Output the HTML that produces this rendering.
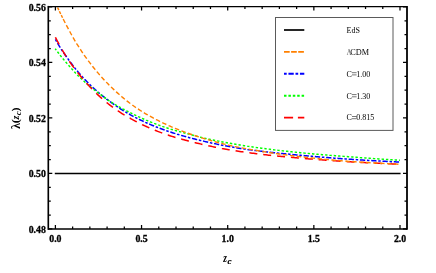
<!DOCTYPE html>
<html><head><meta charset="utf-8"><title>plot</title>
<style>html,body{margin:0;padding:0;background:#fff;}body{width:436px;height:273px;overflow:hidden;font-family:"Liberation Serif",serif;}svg{display:block;position:absolute;left:0;top:0;will-change:transform;}</style>
</head><body>
<svg width="436" height="273" viewBox="0 0 436 273">
<rect x="0" y="0" width="436" height="273" fill="#fff"/>
<g fill="none" stroke-linecap="butt" stroke-linejoin="round">
<path d="M54.8,173.45 L400.6,173.45" stroke="#000" stroke-width="1.4"/>
<path d="M55.42,39.47 L55.57,39.74 L56.64,41.65 M57.51,43.17 L57.64,43.39 L59.02,45.72 L60.26,47.70 M61.23,49.16 L61.26,49.21 L62.64,51.23 M63.62,52.67 L63.68,52.76 L65.06,54.74 L66.44,56.70 L66.66,57.01 M67.68,58.44 L67.82,58.63 L69.14,60.47 M70.17,61.88 L70.23,61.96 L71.61,63.82 L72.99,65.63 L73.37,66.11 M74.44,67.50 L74.54,67.62 L75.92,69.35 L76.00,69.45 M77.11,70.81 L77.13,70.83 L78.51,72.48 L79.89,74.08 L80.55,74.84 M81.72,76.14 L81.79,76.21 L83.17,77.71 L83.42,77.98 M84.62,79.25 L84.72,79.36 L86.10,80.79 L87.48,82.20 L88.32,83.04 M89.56,84.28 L89.72,84.44 L91.10,85.78 L91.36,86.02 M92.63,87.23 L92.65,87.25 L94.03,88.53 L95.41,89.79 L96.55,90.80 M97.86,91.95 L98.00,92.07 L99.38,93.25 L99.76,93.58 M101.11,94.70 L101.11,94.70 L102.49,95.83 L103.86,96.94 L105.23,98.02 M106.62,99.10 L106.62,99.11 L108.00,100.16 L108.60,100.61 M110.01,101.66 L110.07,101.71 L111.45,102.72 L112.83,103.70 L114.21,104.67 L114.32,104.75 M115.76,105.74 L115.77,105.75 L117.15,106.68 L117.83,107.14 M119.30,108.10 L119.39,108.16 L120.77,109.04 L122.15,109.92 L123.53,110.77 L123.78,110.92 M125.28,111.83 L125.42,111.92 L126.80,112.73 L127.43,113.10 M128.95,113.97 L129.05,114.02 L130.43,114.79 L131.81,115.55 L133.19,116.29 L133.60,116.52 M135.15,117.33 L135.25,117.39 L136.63,118.10 L137.38,118.47 M138.94,119.26 L139.05,119.31 L140.43,119.98 L141.81,120.65 L143.19,121.30 L143.72,121.55 M145.31,122.28 L145.43,122.34 L146.81,122.96 L147.59,123.30 M149.20,124.01 L149.23,124.02 L150.60,124.61 L151.98,125.19 L153.36,125.76 L154.08,126.06 M155.71,126.71 L155.78,126.74 L157.16,127.28 L158.04,127.62 M159.67,128.24 L159.75,128.27 L161.13,128.79 L162.51,129.29 L163.89,129.79 L164.65,130.06 M166.31,130.65 L166.47,130.70 L167.85,131.18 L168.67,131.45 M170.33,132.01 L170.44,132.04 L171.82,132.50 L173.20,132.94 L174.58,133.38 L175.38,133.63 M177.05,134.14 L177.17,134.18 L178.55,134.59 L179.45,134.86 M181.13,135.36 L181.13,135.36 L182.51,135.76 L183.89,136.15 L185.27,136.54 L186.23,136.80 M187.92,137.26 L188.03,137.29 L189.41,137.66 L190.33,137.90 M192.03,138.35 L192.17,138.38 L193.55,138.74 L194.93,139.09 L196.31,139.43 L197.17,139.64 M198.87,140.06 L198.90,140.06 L200.28,140.40 L201.30,140.64 M203.00,141.04 L203.04,141.05 L204.42,141.37 L205.80,141.69 L207.18,142.01 L208.17,142.23 M209.88,142.61 L209.94,142.63 L211.32,142.93 L212.32,143.15 M214.03,143.52 L214.07,143.53 L215.45,143.82 L216.83,144.11 L218.21,144.40 L219.22,144.60 M220.94,144.95 L220.97,144.96 L222.35,145.23 L223.39,145.43 M225.11,145.77 L225.11,145.77 L226.49,146.03 L227.87,146.29 L229.25,146.54 L230.32,146.73 M232.05,147.04 L232.18,147.06 L233.56,147.30 L234.51,147.46 M236.23,147.75 L236.32,147.77 L237.70,147.99 L239.08,148.21 L240.46,148.43 L241.47,148.59 M243.20,148.85 L243.22,148.85 L244.60,149.06 L245.68,149.21 M247.41,149.46 L247.53,149.48 L248.91,149.67 L250.29,149.86 L251.67,150.05 L252.66,150.18 M254.40,150.41 L254.43,150.41 L255.81,150.59 L256.88,150.73 M258.61,150.94 L258.75,150.96 L260.12,151.13 L261.50,151.29 L262.88,151.45 L263.88,151.57 M265.62,151.77 L265.64,151.77 L267.02,151.93 L268.10,152.05 M269.84,152.24 L269.96,152.25 L271.34,152.40 L272.72,152.55 L274.10,152.70 L275.11,152.80 M276.85,152.98 L277.03,153.00 L278.41,153.14 L279.34,153.24 M281.08,153.41 L281.17,153.42 L282.55,153.56 L283.93,153.69 L285.31,153.83 L286.36,153.93 M288.10,154.10 L288.24,154.11 L289.62,154.24 L290.59,154.34 M292.33,154.50 L292.38,154.50 L293.76,154.64 L295.14,154.77 L296.52,154.89 L297.61,155.00 M299.36,155.16 L299.45,155.17 L300.83,155.30 L301.84,155.39 M303.59,155.55 L303.59,155.55 L304.97,155.68 L306.35,155.81 L307.73,155.93 L308.87,156.03 M310.61,156.19 L310.66,156.19 L312.04,156.31 L313.10,156.40 M314.85,156.55 L314.97,156.56 L316.35,156.68 L317.73,156.80 L319.11,156.91 L320.13,157.00 M321.87,157.14 L322.04,157.16 L323.42,157.27 L324.37,157.34 M326.11,157.48 L326.18,157.49 L327.56,157.60 L328.94,157.71 L330.32,157.82 L331.39,157.90 M333.14,158.03 L333.25,158.04 L334.63,158.14 L335.64,158.22 M337.38,158.35 L337.39,158.35 L338.77,158.45 L340.15,158.55 L341.53,158.65 L342.67,158.73 M344.42,158.85 L344.46,158.86 L345.84,158.95 L346.91,159.03 M348.66,159.14 L348.78,159.15 L350.16,159.24 L351.54,159.34 L352.92,159.43 L353.94,159.49 M355.69,159.61 L355.85,159.62 L357.23,159.71 L358.19,159.77 M359.93,159.88 L359.99,159.88 L361.37,159.97 L362.75,160.06 L364.13,160.14 L365.22,160.21 M366.97,160.32 L367.06,160.32 L368.44,160.41 L369.47,160.47 M371.22,160.57 L371.37,160.58 L372.75,160.66 L374.13,160.74 L375.51,160.82 L376.51,160.88 M378.26,160.97 L378.27,160.97 L379.65,161.05 L380.75,161.11 M382.50,161.20 L382.58,161.21 L383.96,161.28 L385.34,161.35 L386.72,161.42 L387.79,161.47 M389.55,161.56 L389.65,161.56 L391.03,161.63 L392.04,161.68 M393.79,161.76 L393.79,161.76 L395.17,161.83 L396.55,161.89 L397.93,161.95 L399.09,162.00" stroke="#0000ff" stroke-width="1.5"/>
<path d="M55.23,48.75 L55.40,48.98 L56.25,50.13 M57.43,51.70 L57.47,51.75 L58.85,53.55 L58.89,53.61 M60.10,55.15 L60.23,55.32 L61.59,57.03 M62.83,58.54 L62.99,58.74 L64.36,60.39 M65.63,61.89 L65.75,62.03 L67.13,63.62 L67.20,63.70 M68.49,65.17 L68.51,65.19 L69.89,66.73 L70.09,66.96 M71.38,68.43 L71.44,68.50 L72.82,70.07 L72.97,70.24 M74.27,71.70 L74.37,71.82 L75.75,73.33 L75.89,73.47 M77.24,74.89 L77.30,74.95 L78.68,76.32 L78.95,76.57 M80.37,77.93 L80.41,77.97 L81.79,79.26 L82.12,79.57 M83.57,80.89 L83.69,81.00 L85.07,82.23 L85.36,82.48 M86.83,83.77 L86.96,83.88 L88.34,85.06 L88.66,85.33 M90.17,86.58 L90.24,86.64 L91.62,87.77 L92.03,88.10 M93.56,89.32 L93.69,89.42 L95.07,90.50 L95.45,90.79 M97.01,91.98 L97.14,92.08 L98.52,93.11 L98.93,93.42 M100.51,94.58 L100.59,94.64 L101.97,95.65 L102.44,96.01 M104.02,97.17 L104.04,97.19 L105.42,98.20 L105.95,98.58 M107.55,99.72 L107.66,99.79 L109.04,100.73 L109.54,101.06 M111.19,102.12 L111.28,102.18 L112.66,103.04 L113.23,103.38 M114.91,104.40 L115.08,104.50 L116.46,105.31 L116.98,105.61 M118.68,106.58 L118.70,106.59 L120.08,107.36 L120.78,107.74 M122.50,108.68 L122.66,108.77 L124.04,109.50 L124.62,109.81 M126.35,110.71 L126.46,110.77 L127.84,111.48 L128.49,111.81 M130.24,112.70 L130.25,112.71 L131.63,113.40 L132.38,113.77 M134.14,114.63 L134.22,114.67 L135.60,115.33 L136.31,115.67 M138.08,116.50 L138.19,116.55 L139.57,117.19 L140.26,117.51 M142.04,118.31 L142.15,118.36 L143.53,118.97 L144.24,119.28 M146.04,120.06 L146.12,120.10 L147.50,120.68 L148.25,121.00 M150.06,121.74 L150.09,121.76 L151.47,122.32 L152.28,122.64 M154.11,123.36 L154.23,123.41 L155.61,123.94 L156.35,124.22 M158.18,124.91 L158.19,124.92 L159.57,125.42 L160.43,125.73 M162.28,126.38 L162.33,126.40 L163.71,126.87 L164.55,127.16 M166.42,127.77 L166.47,127.78 L167.85,128.22 L168.70,128.49 M170.58,129.07 L170.61,129.08 L171.99,129.49 L172.88,129.75 M174.76,130.30 L174.92,130.35 L176.30,130.74 L177.07,130.96 M178.95,131.48 L179.06,131.51 L180.44,131.89 L181.27,132.11 M183.16,132.63 L183.20,132.64 L184.58,133.01 L185.48,133.25 M187.37,133.75 L187.51,133.79 L188.89,134.16 L189.69,134.37 M191.58,134.87 L191.65,134.89 L193.03,135.26 L193.90,135.49 M195.80,135.99 L195.97,136.04 L197.34,136.40 L198.12,136.60 M200.02,137.08 L200.10,137.10 L201.48,137.44 L202.35,137.65 M204.26,138.10 L204.42,138.13 L205.80,138.45 L206.60,138.63 M208.51,139.06 L208.56,139.07 L209.94,139.37 L210.85,139.57 M212.77,139.98 L212.87,140.00 L214.25,140.28 L215.12,140.46 M217.04,140.85 L217.18,140.88 L218.56,141.16 L219.39,141.32 M221.32,141.70 L221.32,141.70 L222.70,141.96 L223.67,142.15 M225.60,142.50 L225.63,142.51 L227.01,142.76 L227.96,142.94 M229.89,143.28 L229.94,143.29 L231.32,143.54 L232.25,143.70 M234.18,144.03 L234.25,144.05 L235.63,144.28 L236.55,144.44 M238.48,144.76 L238.57,144.77 L239.95,145.00 L240.85,145.15 M242.78,145.46 L242.88,145.47 L244.26,145.69 L245.15,145.83 M247.09,146.13 L247.19,146.15 L248.57,146.36 L249.46,146.49 M251.40,146.78 L251.50,146.79 L252.88,146.99 L253.77,147.12 M255.71,147.40 L255.81,147.41 L257.19,147.61 L258.09,147.73 M260.03,148.00 L260.12,148.01 L261.50,148.20 L262.41,148.32 M264.35,148.58 L264.44,148.59 L265.82,148.77 L266.73,148.89 M268.67,149.14 L268.75,149.15 L270.13,149.32 L271.06,149.44 M273.00,149.68 L273.06,149.68 L274.44,149.85 L275.38,149.96 M277.33,150.20 L277.37,150.20 L278.75,150.36 L279.71,150.47 M281.66,150.70 L281.68,150.70 L283.06,150.86 L284.04,150.97 M285.99,151.18 L286.00,151.18 L287.38,151.34 L288.38,151.44 M290.32,151.65 L290.48,151.67 L291.86,151.82 L292.71,151.91 M294.66,152.11 L294.79,152.12 L296.17,152.26 L297.05,152.35 M299.00,152.55 L299.10,152.56 L300.48,152.70 L301.38,152.79 M303.33,152.98 L303.42,152.98 L304.80,153.12 L305.72,153.20 M307.67,153.39 L307.73,153.39 L309.11,153.52 L310.06,153.60 M312.01,153.78 L312.04,153.78 L313.42,153.91 L314.41,153.99 M316.36,154.16 L316.52,154.18 L317.90,154.30 L318.75,154.37 M320.70,154.53 L320.84,154.54 L322.21,154.66 L323.09,154.73 M325.04,154.89 L325.15,154.90 L326.53,155.01 L327.44,155.08 M329.39,155.24 L329.46,155.25 L330.84,155.35 L331.78,155.43 M333.73,155.58 L333.77,155.58 L335.15,155.69 L336.13,155.77 M338.08,155.92 L338.08,155.92 L339.46,156.02 L340.47,156.10 M342.43,156.24 L342.57,156.25 L343.95,156.36 L344.82,156.42 M346.77,156.57 L346.88,156.58 L348.26,156.68 L349.17,156.75 M351.12,156.89 L351.19,156.90 L352.57,157.00 L353.51,157.07 M355.47,157.22 L355.50,157.22 L356.88,157.32 L357.86,157.40 M359.82,157.54 L359.99,157.56 L361.37,157.66 L362.21,157.72 M364.16,157.87 L364.30,157.88 L365.68,157.99 L366.56,158.05 M368.51,158.20 L368.61,158.20 L369.99,158.31 L370.90,158.37 M372.86,158.51 L372.92,158.52 L374.30,158.62 L375.25,158.69 M377.20,158.82 L377.23,158.82 L378.61,158.92 L379.60,158.99 M381.55,159.12 L381.72,159.13 L383.10,159.22 L383.95,159.27 M385.90,159.40 L386.03,159.40 L387.41,159.49 L388.30,159.54 M390.25,159.65 L390.34,159.66 L391.72,159.74 L392.65,159.79 M394.61,159.90 L394.65,159.90 L396.03,159.98 L397.00,160.03 M398.96,160.14 L398.97,160.14 L400.00,160.19" stroke="#00ff00" stroke-width="1.45"/>
<path d="M55.41,37.24 L55.57,37.56 L56.95,40.25 L58.33,42.94 L59.07,44.36 M61.93,49.55 L61.95,49.59 L63.33,51.91 L64.71,54.17 L66.09,56.36 L66.10,56.38 M69.36,61.33 L69.37,61.34 L70.75,63.33 L72.13,65.27 L73.51,67.15 L74.02,67.83 M77.62,72.54 L77.65,72.58 L79.03,74.31 L80.41,76.01 L81.79,77.66 L82.69,78.73 M86.61,83.18 L86.62,83.20 L88.00,84.71 L89.38,86.20 L90.76,87.67 L92.06,89.03 M96.24,93.25 L96.28,93.28 L97.66,94.62 L99.04,95.92 L100.42,97.19 L101.80,98.43 L102.10,98.69 M106.64,102.50 L106.80,102.63 L108.18,103.73 L109.56,104.80 L110.94,105.85 L112.32,106.88 L112.98,107.37 M117.83,110.79 L117.84,110.79 L119.21,111.72 L120.59,112.63 L121.97,113.52 L123.35,114.39 L124.56,115.12 M129.73,118.02 L129.74,118.02 L131.12,118.79 L132.50,119.56 L133.88,120.31 L135.25,121.05 L136.63,121.77 L136.76,121.84 M142.06,124.50 L142.15,124.55 L143.53,125.22 L144.91,125.87 L146.29,126.51 L147.67,127.14 L149.05,127.75 L149.31,127.87 M154.77,130.19 L154.92,130.25 L156.30,130.81 L157.68,131.35 L159.06,131.89 L160.44,132.41 L161.82,132.92 L162.23,133.08 M167.83,135.03 L167.85,135.03 L169.23,135.48 L170.61,135.93 L171.99,136.36 L173.37,136.78 L174.75,137.20 L175.47,137.41 M181.17,139.03 L181.31,139.06 L182.68,139.44 L184.06,139.81 L185.44,140.18 L186.82,140.54 L188.20,140.90 L188.90,141.08 M194.65,142.53 L194.76,142.56 L196.14,142.90 L197.52,143.23 L198.90,143.56 L200.28,143.89 L201.66,144.22 L202.43,144.40 M208.22,145.70 L208.38,145.74 L209.76,146.04 L211.14,146.33 L212.52,146.63 L213.90,146.91 L215.28,147.20 L216.05,147.35 M221.87,148.48 L222.01,148.51 L223.39,148.76 L224.77,149.01 L226.15,149.26 L227.53,149.50 L228.91,149.73 L229.74,149.87 M235.60,150.81 L235.63,150.82 L237.01,151.03 L238.39,151.24 L239.77,151.45 L241.15,151.65 L242.53,151.85 L243.51,151.99 M249.39,152.81 L249.43,152.81 L250.81,153.00 L252.19,153.18 L253.57,153.36 L254.95,153.54 L256.33,153.71 L257.32,153.83 M263.21,154.54 L263.23,154.54 L264.61,154.70 L265.99,154.86 L267.37,155.02 L268.75,155.17 L270.13,155.32 L271.16,155.43 M277.06,156.05 L277.20,156.06 L278.58,156.20 L279.96,156.34 L281.34,156.47 L282.72,156.61 L284.10,156.74 L285.02,156.83 M290.92,157.37 L291.00,157.37 L292.38,157.50 L293.76,157.62 L295.14,157.74 L296.52,157.86 L297.90,157.98 L298.89,158.06 M304.80,158.55 L304.97,158.56 L306.35,158.67 L307.73,158.79 L309.11,158.90 L310.49,159.01 L311.87,159.12 L312.78,159.19 M318.69,159.64 L318.77,159.65 L320.15,159.75 L321.53,159.86 L322.90,159.96 L324.28,160.06 L325.66,160.16 L326.67,160.24 M332.58,160.66 L332.74,160.67 L334.12,160.76 L335.50,160.86 L336.88,160.95 L338.25,161.04 L339.63,161.13 L340.56,161.19 M346.48,161.57 L346.53,161.57 L347.91,161.66 L349.29,161.74 L350.67,161.82 L352.05,161.90 L353.43,161.98 L354.47,162.04 M360.39,162.37 L360.50,162.38 L361.88,162.45 L363.26,162.52 L364.64,162.60 L366.02,162.67 L367.40,162.74 L368.38,162.79 M374.30,163.09 L374.30,163.09 L375.68,163.15 L377.06,163.22 L378.44,163.28 L379.82,163.35 L381.20,163.41 L382.29,163.46 M388.22,163.71 L388.27,163.72 L389.65,163.77 L391.03,163.83 L392.41,163.88 L393.79,163.94 L395.17,163.99 L396.21,164.03" stroke="#ff0000" stroke-width="1.5"/>
<path d="M57.56,7.45 L57.64,7.62 L58.84,10.16 M59.40,11.32 L59.54,11.61 L60.71,14.02 M61.23,15.09 L61.26,15.15 L62.57,17.78 M63.16,18.95 L63.33,19.29 L64.71,21.98 L65.22,22.96 M66.35,25.15 L66.44,25.32 L67.82,27.95 L68.44,29.13 M69.61,31.30 L69.72,31.48 L71.10,33.98 L71.79,35.23 M73.01,37.38 L73.16,37.66 L74.54,40.04 L75.27,41.27 M76.54,43.38 L76.61,43.51 L77.99,45.72 L78.93,47.19 M80.27,49.26 L80.41,49.46 L81.79,51.54 L82.78,53.00 M84.18,55.03 L84.20,55.07 L85.58,57.03 L86.78,58.70 M88.24,60.69 L88.34,60.83 L89.72,62.67 L90.95,64.28 M92.47,66.22 L92.48,66.24 L93.86,67.97 L95.24,69.67 L95.29,69.73 M96.86,71.62 L96.97,71.75 L98.35,73.37 L99.73,74.97 L99.79,75.04 M101.42,76.89 L101.45,76.92 L102.83,78.44 L104.21,79.94 L104.46,80.21 M106.16,82.00 L106.28,82.13 L107.66,83.55 L109.04,84.95 L109.30,85.21 M111.06,86.94 L111.11,86.99 L112.49,88.33 L113.87,89.63 L114.31,90.05 M116.12,91.72 L116.28,91.87 L117.66,93.12 L119.04,94.34 L119.48,94.73 M121.34,96.34 L121.46,96.44 L122.84,97.61 L124.22,98.76 L124.79,99.23 M126.71,100.77 L126.80,100.84 L128.18,101.92 L129.56,102.97 L130.29,103.51 M132.27,104.96 L132.32,105.00 L133.70,105.98 L135.08,106.95 L135.95,107.56 M137.99,108.94 L138.01,108.95 L139.39,109.87 L140.77,110.76 L141.76,111.39 M143.86,112.69 L143.88,112.71 L145.26,113.54 L146.64,114.35 L147.73,114.98 M149.88,116.19 L149.92,116.21 L151.29,116.97 L152.67,117.72 L153.84,118.34 M156.02,119.48 L156.12,119.53 L157.50,120.23 L158.88,120.93 L160.04,121.51 M162.25,122.59 L162.33,122.63 L163.71,123.29 L165.09,123.94 L166.32,124.51 M168.57,125.52 L168.71,125.59 L170.09,126.20 L171.47,126.80 L172.69,127.32 M174.97,128.27 L175.10,128.32 L176.48,128.89 L177.86,129.44 L179.14,129.95 M181.44,130.85 L181.48,130.86 L182.86,131.39 L184.24,131.90 L185.62,132.41 L185.65,132.42 M187.97,133.26 L188.03,133.28 L189.41,133.77 L190.79,134.25 L192.17,134.72 L192.22,134.74 M194.56,135.53 L194.59,135.53 L195.97,135.99 L197.34,136.44 L198.72,136.88 L198.84,136.92 M201.19,137.66 L201.31,137.70 L202.69,138.13 L204.07,138.56 L205.45,138.98 L205.49,138.99 M207.85,139.69 L207.87,139.70 L209.25,140.10 L210.63,140.50 L212.01,140.90 L212.17,140.95 M214.55,141.61 L214.59,141.62 L215.97,142.00 L217.35,142.37 L218.73,142.74 L218.89,142.78 M221.28,143.40 L221.32,143.41 L222.70,143.76 L224.08,144.11 L225.46,144.44 L225.64,144.49 M228.04,145.06 L228.05,145.06 L229.42,145.38 L230.80,145.69 L232.18,146.00 L232.43,146.06 M234.84,146.57 L234.94,146.59 L236.32,146.87 L237.70,147.14 L239.08,147.40 L239.26,147.43 M241.68,147.87 L241.84,147.90 L243.22,148.14 L244.60,148.38 L245.98,148.63 L246.11,148.65 M248.54,149.08 L248.57,149.08 L249.95,149.33 L251.33,149.59 L252.71,149.83 L252.97,149.88 M255.40,150.31 L255.47,150.32 L256.85,150.55 L258.23,150.79 L259.61,151.02 L259.84,151.06 M262.27,151.46 L262.37,151.47 L263.75,151.70 L265.13,151.92 L266.51,152.13 L266.71,152.16 M269.15,152.54 L269.27,152.56 L270.65,152.77 L272.03,152.97 L273.41,153.18 L273.60,153.20 M276.04,153.56 L276.16,153.57 L277.54,153.77 L278.92,153.96 L280.30,154.15 L280.49,154.18 M282.94,154.51 L283.06,154.53 L284.44,154.71 L285.82,154.89 L287.20,155.07 L287.40,155.10 M289.84,155.41 L289.96,155.43 L291.34,155.60 L292.72,155.77 L294.10,155.94 L294.31,155.96 M296.76,156.26 L296.86,156.27 L298.24,156.43 L299.62,156.59 L301.00,156.75 L301.23,156.78 M303.68,157.06 L303.76,157.06 L305.14,157.22 L306.52,157.37 L307.90,157.53 L308.15,157.56 M310.60,157.82 L310.66,157.83 L312.04,157.98 L313.42,158.13 L314.80,158.28 L315.07,158.30 M317.52,158.56 L317.56,158.57 L318.94,158.71 L320.32,158.85 L321.70,158.99 L322.00,159.02 M324.45,159.27 L324.46,159.27 L325.84,159.40 L327.22,159.54 L328.60,159.67 L328.93,159.70 M331.39,159.93 L331.53,159.94 L332.91,160.07 L334.29,160.20 L335.67,160.32 L335.87,160.34 M338.32,160.55 L338.43,160.56 L339.81,160.68 L341.19,160.80 L342.57,160.91 L342.81,160.93 M345.27,161.13 L345.33,161.13 L346.71,161.24 L348.09,161.35 L349.47,161.45 L349.75,161.48 M352.21,161.65 L352.23,161.65 L353.60,161.74 L354.98,161.82 L356.36,161.91 L356.70,161.92 M359.16,162.06 L359.30,162.07 L360.68,162.15 L362.06,162.22 L363.44,162.30 L363.66,162.31 M366.12,162.46 L366.20,162.46 L367.58,162.54 L368.95,162.63 L370.33,162.70 L370.61,162.72 M373.07,162.86 L373.09,162.86 L374.47,162.94 L375.85,163.02 L377.23,163.09 L377.56,163.11 M380.03,163.25 L380.17,163.25 L381.55,163.33 L382.93,163.40 L384.31,163.48 L384.52,163.49 M386.98,163.62 L387.06,163.63 L388.44,163.70 L389.82,163.78 L391.20,163.85 L391.47,163.87 M393.93,164.00 L393.96,164.00 L395.34,164.07 L396.72,164.14 L398.10,164.22 L398.43,164.23" stroke="#ff8000" stroke-width="1.4"/>
</g>
<path d="M48.3,5.92 V229.85" stroke="#000" stroke-width="1.65" fill="none"/><path d="M407.0,5.92 V229.85" stroke="#000" stroke-width="1.8" fill="none"/><path d="M48.3,6.6 H407.0" stroke="#000" stroke-width="1.4" fill="none"/><path d="M48.3,229.0 H407.0" stroke="#000" stroke-width="1.6" fill="none"/>
<path d="M55.40,229.0 v-4.0 M55.40,6.6 v4.0 M72.63,229.0 v-2.5 M72.63,6.6 v2.5 M89.86,229.0 v-2.5 M89.86,6.6 v2.5 M107.09,229.0 v-2.5 M107.09,6.6 v2.5 M124.32,229.0 v-2.5 M124.32,6.6 v2.5 M141.55,229.0 v-4.0 M141.55,6.6 v4.0 M158.78,229.0 v-2.5 M158.78,6.6 v2.5 M176.01,229.0 v-2.5 M176.01,6.6 v2.5 M193.24,229.0 v-2.5 M193.24,6.6 v2.5 M210.47,229.0 v-2.5 M210.47,6.6 v2.5 M227.70,229.0 v-4.0 M227.70,6.6 v4.0 M244.93,229.0 v-2.5 M244.93,6.6 v2.5 M262.16,229.0 v-2.5 M262.16,6.6 v2.5 M279.39,229.0 v-2.5 M279.39,6.6 v2.5 M296.62,229.0 v-2.5 M296.62,6.6 v2.5 M313.85,229.0 v-4.0 M313.85,6.6 v4.0 M331.08,229.0 v-2.5 M331.08,6.6 v2.5 M348.31,229.0 v-2.5 M348.31,6.6 v2.5 M365.54,229.0 v-2.5 M365.54,6.6 v2.5 M382.77,229.0 v-2.5 M382.77,6.6 v2.5 M400.00,229.0 v-4.0 M400.00,6.6 v4.0 M48.3,228.90 h4.0 M407.0,228.90 h-4.0 M48.3,215.03 h2.5 M407.0,215.03 h-2.5 M48.3,201.15 h2.5 M407.0,201.15 h-2.5 M48.3,187.28 h2.5 M407.0,187.28 h-2.5 M48.3,173.40 h4.0 M407.0,173.40 h-4.0 M48.3,159.53 h2.5 M407.0,159.53 h-2.5 M48.3,145.65 h2.5 M407.0,145.65 h-2.5 M48.3,131.78 h2.5 M407.0,131.78 h-2.5 M48.3,117.90 h4.0 M407.0,117.90 h-4.0 M48.3,104.03 h2.5 M407.0,104.03 h-2.5 M48.3,90.15 h2.5 M407.0,90.15 h-2.5 M48.3,76.28 h2.5 M407.0,76.28 h-2.5 M48.3,62.40 h4.0 M407.0,62.40 h-4.0 M48.3,48.53 h2.5 M407.0,48.53 h-2.5 M48.3,34.65 h2.5 M407.0,34.65 h-2.5 M48.3,20.78 h2.5 M407.0,20.78 h-2.5 M48.3,6.90 h4.0 M407.0,6.90 h-4.0" stroke="#000" stroke-width="1.25" fill="none"/>
<g font-family="Liberation Serif, serif" font-weight="bold" font-size="9.8" fill="#000" stroke="#000" stroke-width="0.3">
<text x="55.40" y="242.4" text-anchor="middle">0.0</text>
<text x="141.55" y="242.4" text-anchor="middle">0.5</text>
<text x="227.70" y="242.4" text-anchor="middle">1.0</text>
<text x="313.85" y="242.4" text-anchor="middle">1.5</text>
<text x="400.00" y="242.4" text-anchor="middle">2.0</text>
<text x="45.8" y="232.90" text-anchor="end">0.48</text>
<text x="45.8" y="177.40" text-anchor="end">0.50</text>
<text x="45.8" y="121.90" text-anchor="end">0.52</text>
<text x="45.8" y="66.40" text-anchor="end">0.54</text>
<text x="45.8" y="10.90" text-anchor="end">0.56</text>
</g>
<g font-family="Liberation Serif, serif" font-weight="bold" fill="#000">
<text transform="translate(223.25,262.4) scale(0.76,1)" font-size="12.5" font-style="italic">z</text><text x="227.6" y="263.8" font-size="9" font-style="italic" stroke="#000" stroke-width="0.2">c</text>
<g transform="translate(19.7,129.0) rotate(-90)"><text x="0" y="0" font-size="12.2">λ</text><text transform="translate(5.7,-0.5) scale(1.2,1)" font-size="10.4">(</text><text x="9.6" y="-0.9" font-size="10.2" font-style="italic">z</text><text x="13.7" y="1.7" font-size="9" font-style="italic">c</text><text transform="translate(17.6,-0.5) scale(1.2,1)" font-size="10.4">)</text></g>
</g>
<rect x="275.5" y="17.5" width="117.5" height="112.9" fill="#fff" stroke="#5a5a5a" stroke-width="1"/>
<g fill="none">
<path d="M284,30 H304.3" stroke="#000" stroke-width="1.7"/>
<path d="M284,51.8 H304.3" stroke="#ff8000" stroke-width="1.7" stroke-dasharray="5.7 1.4"/>
<path d="M284,73.8 H304.3" stroke="#0000ff" stroke-width="1.9" stroke-dasharray="2.7 1.75 5.3 1.75" />
<path d="M284,95.7 H304.3" stroke="#00ff00" stroke-width="1.9" stroke-dasharray="2.5 1.9"/>
<path d="M284,117.6 H304.3" stroke="#ff0000" stroke-width="1.9" stroke-dasharray="9.1 4.8"/>
</g>
<g font-family="Liberation Serif, serif" font-size="8" fill="#000">
<text x="346.5" y="32.8">EdS</text>
<text transform="translate(346.7,54.599999999999994) scale(0.8,1)" fill="#555">Λ</text><text x="350.25" y="54.599999999999994" textLength="18.8" lengthAdjust="spacingAndGlyphs">CDM</text>
<text x="346.5" y="76.6">C</text><path d="M352.0,72.70 h4.6 M352.0,74.90 h4.6" stroke="#222" stroke-width="0.62" fill="none"/><text x="356.35" y="76.6">1.00</text>
<text x="346.5" y="98.5">C</text><path d="M352.0,94.60 h4.6 M352.0,96.80 h4.6" stroke="#222" stroke-width="0.62" fill="none"/><text x="356.35" y="98.5">1.30</text>
<text x="346.5" y="120.39999999999999">C</text><path d="M352.0,116.50 h4.6 M352.0,118.70 h4.6" stroke="#222" stroke-width="0.62" fill="none"/><text x="356.35" y="120.39999999999999">0.815</text>
</g>
</svg>
</body></html>
